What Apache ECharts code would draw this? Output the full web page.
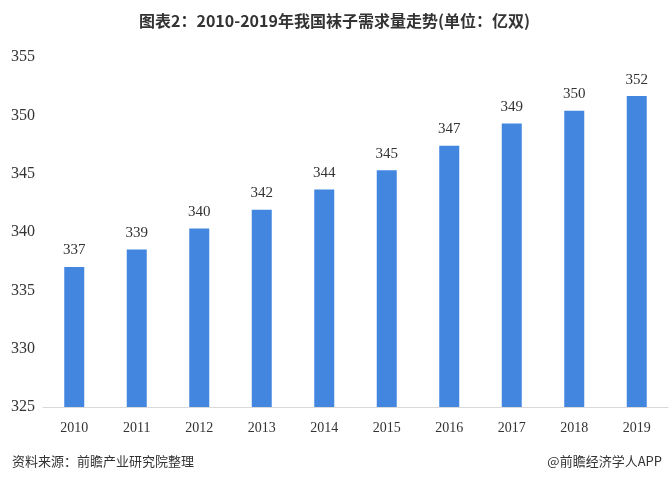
<!DOCTYPE html>
<html><head><meta charset="utf-8">
<script src="https://cdn.jsdelivr.net/npm/echarts@6/dist/echarts.min.js"></script>
<style>html,body{margin:0;padding:0;background:#fff}#c{width:669px;height:480px}</style>
</head><body><div id="c"></div>
<script>
const categories = ['2010','2011','2012','2013','2014','2015','2016','2017','2018','2019'];
const demand = [337.0, 338.5, 340.3, 341.9, 343.65, 345.3, 347.4, 349.3, 350.4, 351.65];
const yTicks = [325, 330, 335, 340, 345, 350, 355];

const chart = echarts.init(document.getElementById('c'));
const numFont = '"Liberation Serif", "DejaVu Serif", serif';
chart.setOption({
  animation: false,
  title: [{
    text: '图表2：2010-2019年我国袜子需求量走势(单位：亿双)',
    left: 'center', top: 8,
    textStyle: {fontSize: 16, fontWeight: 'bold', color: '#333', fontFamily: '"Noto Sans CJK SC", sans-serif'}
  }, {
    text: '资料来源：前瞻产业研究院整理',
    left: 7, top: 450,
    textStyle: {fontSize: 13, fontWeight: 'normal', color: '#333', fontFamily: '"Noto Sans CJK SC", sans-serif'}
  }, {
    text: '@前瞻经济学人APP',
    right: 2, top: 450,
    textStyle: {fontSize: 13, fontWeight: 'normal', color: '#333', fontFamily: '"Noto Sans CJK SC", sans-serif'}
  }],
  grid: {left: 43, right: 1, top: 57, bottom: 73},
  xAxis: {
    type: 'category', data: categories,
    axisLine: {lineStyle: {color: '#d9d9d9'}},
    axisTick: {show: false},
    axisLabel: {color: '#333', fontSize: 14, fontFamily: numFont, margin: 14}
  },
  yAxis: {
    type: 'value', min: yTicks[0], max: yTicks[yTicks.length-1], interval: 5,
    axisLine: {show: false}, axisTick: {show: false},
    splitLine: {show: false},
    axisLabel: {color: '#333', fontSize: 16, fontFamily: numFont, margin: 8}
  },
  series: [{
    type: 'bar', data: demand, barWidth: 20,
    itemStyle: {color: '#4286e0'},
    label: {
      show: true, position: 'top', distance: 9,
      color: '#333', fontSize: 15, fontFamily: numFont,
      formatter: p => Math.round(p.value)
    }
  }]
});
</script></body></html>
